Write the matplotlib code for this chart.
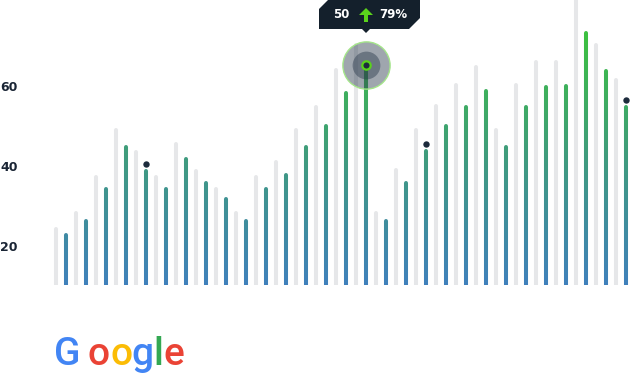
import numpy as np
import matplotlib
matplotlib.use('Agg')
import matplotlib.pyplot as plt
from matplotlib.collections import LineCollection
from matplotlib.colors import LinearSegmentedColormap, Normalize
from matplotlib.patches import Polygon
from matplotlib import transforms

# values (left bar = grey, right bar = gradient)
prev_values = [24.5, 28.5, 37.5, 49.25, 43.75, 37.5, 45.75, 39, 34.5, 28.5,
               37.5, 41.25, 49.25, 55, 64.25, 70.5, 28.5, 39.25, 49.25, 55.25,
               60.5, 65, 49.25, 60.5, 66.25, 66.25, 82, 70.5, 61.75]
curr_values = [23, 26.5, 34.5, 45, 39, 34.5, 42, 36, 32, 26.5,
               34.5, 38, 45, 50.25, 58.5, 65, 26.5, 36, 44, 50.25,
               55, 59, 45, 55, 60, 60.25, 73.5, 64, 55]
marked = [4, 18, 28]
highlight = 15
y_ticks = [20, 40, 60]
tooltip_value = "50"
tooltip_change = "79%"
logo_letters = ["G", "o", "o", "g", "l", "e"]
logo_colors = ["#4285F4", "#EA4335", "#FBBC05", "#4285F4", "#34A853", "#EA4335"]
logo_x = [67, 98.5, 122, 142.5, 158.5, 173.5]

W, H = 643, 378
fig = plt.figure(figsize=(W / 100, H / 100), dpi=100)
ax = fig.add_axes([0, (H - 285) / H, 1, 285 / H])
ax.set_xlim(-61 / 20, (W - 61) / 20)
ax.set_ylim(10, 10 + 285 / 4)
ax.axis('off')

idx = np.arange(len(prev_values))
prev = np.array(prev_values)
curr = np.array(curr_values)
cap = 0.5
bar_lw = 2.9

ax.vlines(idx - 0.25, 0, prev - cap, color='#e6e7e9', lw=bar_lw, capstyle='round')

# gradient bars: blue at the bottom, green up high
cmap = LinearSegmentedColormap.from_list('bars', ['#3f80bc', '#3f9c7c', '#3cc43a'])
segs, mids = [], []
for i, v in enumerate(curr):
    edges = np.linspace(8, v - cap, int((v - 8) * 2) + 2)
    for a, b in zip(edges[:-1], edges[1:]):
        segs.append([(i + 0.25, a), (i + 0.25, b)])
        mids.append((a + b) / 2)
lc = LineCollection(segs, cmap=cmap, norm=Normalize(10, 76), linewidths=bar_lw, capstyle='round')
lc.set_array(np.array(mids))
ax.add_collection(lc)

ax.plot(idx[marked] + 0.25, curr[marked] + 1.3, 'o', ms=4.6, color='#1d2b3c', mew=0, zorder=5)

# highlighted point
hx, hy = highlight + 0.25, curr[highlight]
ax.plot(hx, hy, 'o', ms=34, color='#2b3a4c', alpha=0.45, mew=0, zorder=6)
ax.plot(hx, hy, 'o', ms=34, mfc='none', mec='#a4e58a', mew=1.0, zorder=6)
ax.plot(hx, hy, 'o', ms=20, color='#2b3a4c', alpha=0.45, mew=0, zorder=6)
ax.plot(hx, hy, 'o', ms=6, mfc='#1d2b3c', mec='#5ad21c', mew=1.6, zorder=7)

lbl = transforms.blended_transform_factory(ax.transAxes, ax.transData)
lbl = transforms.offset_copy(lbl, fig=fig, y=-2.5, units='dots')
for t in y_ticks:
    ax.text(0.0, t, str(t), transform=lbl, ha='left', va='center',
            fontsize=9, fontweight='bold', color='#1a2535')

# overlay in pixel units for tooltip and logo
ov = fig.add_axes([0, 0, 1, 1])
ov.set_xlim(0, W)
ov.set_ylim(0, H)
ov.axis('off')
px, py = ax.transData.transform((hx, hy))
top, bot = H + 2, py + 36
L, R = px - 47, px + 54
box = [(L, H - 9), (L + 9, H), (R, top), (R, bot + 11), (R - 11, bot),
       (px + 4, bot), (px, bot - 4), (px - 4, bot), (L, bot)]
ov.add_patch(Polygon(box, closed=True, color='#14202c', lw=0))
ty = bot + 14
ov.text(px - 25, ty, tooltip_value, ha='center', va='center', color='white',
        fontsize=8.5, fontweight='bold')
ov.text(px + 27, ty, tooltip_change, ha='center', va='center', color='white',
        fontsize=8.5, fontweight='bold')
arrow = [(px - 2, ty - 7), (px + 2, ty - 7), (px + 2, ty), (px + 7, ty),
         (px, ty + 7), (px - 7, ty), (px - 2, ty)]
ov.add_patch(Polygon(arrow, closed=True, color='#5ad21c', lw=0))

for ch, c, x in zip(logo_letters, logo_colors, logo_x):
    ov.text(x, H - 365, ch, color=c, fontsize=28, family='Roboto',
            fontweight='medium', ha='center', va='baseline')

fig.savefig('out.png', dpi=100)
